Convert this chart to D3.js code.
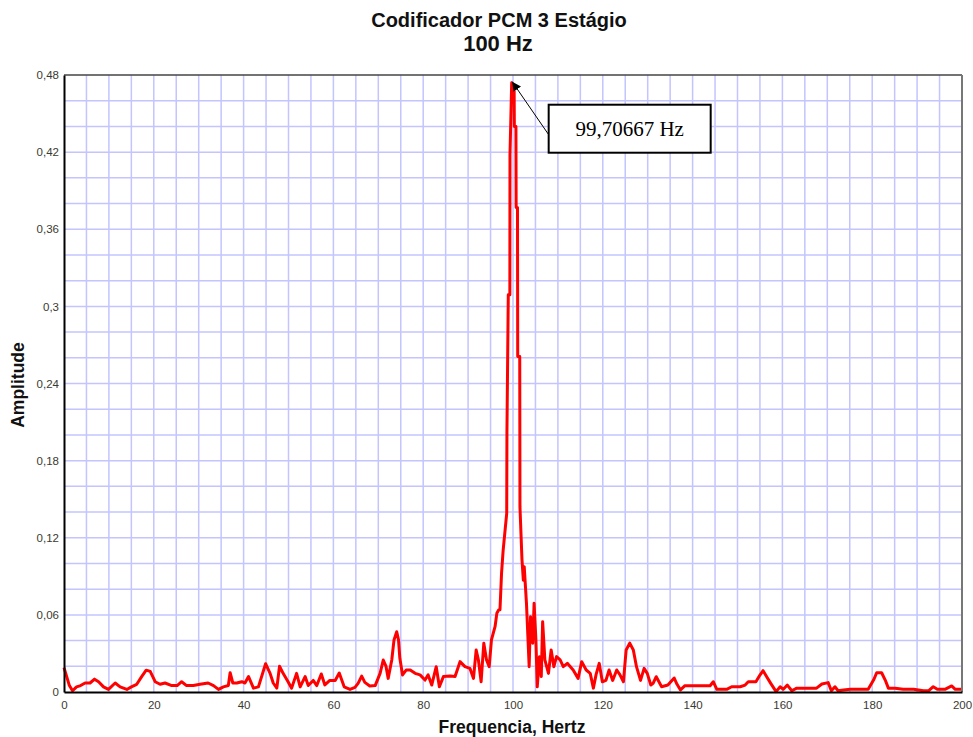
<!DOCTYPE html>
<html>
<head>
<meta charset="utf-8">
<script src="https://cdn.jsdelivr.net/npm/d3@7"></script>
<style>
  html, body { margin: 0; padding: 0; background: #ffffff; }
  svg { display: block; }
</style>
</head>
<body>
<svg id="chart" width="973" height="737"></svg>
<script>
// ---- data ----
const titleLines = ["Codificador PCM 3 Estágio", "100 Hz"];
const xAxisTitle = "Frequencia, Hertz";
const yAxisTitle = "Amplitude";
const xTickValues = [0, 20, 40, 60, 80, 100, 120, 140, 160, 180, 200];
const xTickLabels = ["0", "20", "40", "60", "80", "100", "120", "140", "160", "180", "200"];
const yTickValues = [0, 0.06, 0.12, 0.18, 0.24, 0.30, 0.36, 0.42, 0.48];
const yTickLabels = ["0", "0,06", "0,12", "0,18", "0,24", "0,3", "0,36", "0,42", "0,48"];
const peakFrequency = 99.70667;
const peakAmplitude = 0.474;
const peakLabel = "99,70667 Hz";

const frequency = [
  0, 0.6, 1.2, 1.9, 2.8, 3.7, 4.7, 5.8, 6.8, 7.7, 8.8, 9.9, 11.4, 12.5, 14.0, 15.0,
  16.2, 17.3, 18.3, 19.2, 20.3, 21.4, 22.5, 24.0, 25.2, 26.2, 27.3, 28.8, 30.3, 32.1,
  33.3, 34.4, 35.5, 36.6, 37.0, 37.6, 38.5, 39.6, 40.3, 41.1, 42.2, 43.3, 44.9, 45.9,
  46.6, 47.4, 48.0, 48.8, 49.9, 50.7, 51.8, 52.6, 53.7, 54.4, 55.5, 56.3, 57.3, 58.1,
  59.2, 60.4, 61.3, 62.4, 63.7, 64.8, 65.5, 66.3, 67.0, 68.1, 69.3, 70.4, 71.1, 71.7,
  72.2, 73.0, 73.5, 74.1, 74.5, 74.8, 75.4, 76.2, 77.1, 78.2, 79.3, 80.4, 81.1, 81.9,
  82.9, 83.6, 84.5, 86.0, 87.1, 88.2, 89.3, 90.4, 91.2, 91.8, 92.3, 92.9, 93.5, 94.1,
  94.7, 95.2, 96.0, 96.4, 96.8, 97.1, 97.45, 97.8, 98.2, 98.6, 98.65, 98.95, 99.3, 99.33,
  99.70667, 100.25, 100.3, 100.65, 100.7, 101.0, 101.05, 101.5, 101.55, 102.0, 102.3,
  102.5, 103.0, 103.6, 103.9, 104.4, 104.7,
  105.1, 105.4, 105.9, 106.3, 106.6, 107.1, 107.9, 108.5, 109.1, 109.7, 110.5, 111.2,
  112.1, 113.4, 114.5, 115.3, 116.3, 117.2, 117.9, 118.5, 119.2, 119.9, 120.7, 121.4,
  122.2, 123.1, 123.8, 124.6, 125.2, 126.0, 126.8, 127.5, 128.4, 129.2, 129.9, 130.7,
  131.2, 131.9, 133.1, 134.5, 135.9, 136.5, 137.3, 138.3, 140.2, 142.4, 143.9, 144.6,
  145.4, 147.6, 148.7, 150.6, 151.7, 152.4, 154.1, 155.0, 155.7, 156.5, 157.4, 158.6,
  159.5, 160.2, 161.1, 162.1, 163.2, 165.4, 167.6, 168.8, 170.2, 170.9, 171.7, 172.4,
  173.6, 175.1, 177.3, 179.1, 180.3, 181.0, 182.1, 182.9, 183.6, 185.1, 186.9, 189.2,
  191.4, 192.6, 193.6, 194.5, 196.2, 197.7, 198.5, 199.9
];
const amplitude = [
  0.019, 0.012, 0.005, 0.001, 0.004, 0.005, 0.007, 0.007, 0.010, 0.008, 0.004, 0.002, 0.007, 0.004, 0.002, 0.004,
  0.006, 0.012, 0.017, 0.016, 0.008, 0.006, 0.007, 0.005, 0.005, 0.008, 0.005, 0.005, 0.006, 0.007,
  0.005, 0.002, 0.004, 0.005, 0.015, 0.007, 0.007, 0.008, 0.007, 0.012, 0.003, 0.004, 0.022, 0.0145,
  0.007, 0.003, 0.020, 0.0145, 0.008, 0.003, 0.0145, 0.004, 0.012, 0.005, 0.009, 0.005, 0.014, 0.0055,
  0.009, 0.009, 0.0148, 0.004, 0.002, 0.0036, 0.0067, 0.0124, 0.0075, 0.0047, 0.005, 0.0145, 0.0249, 0.0202,
  0.0106, 0.0249, 0.0405, 0.0469, 0.0405, 0.0262, 0.0133, 0.0171, 0.0171, 0.0145, 0.0133, 0.0093, 0.0133, 0.0054,
  0.0197, 0.0041, 0.012, 0.0124, 0.012, 0.0236, 0.0197, 0.0184, 0.0106, 0.0327, 0.0249, 0.008, 0.038, 0.025,
  0.0197, 0.0405, 0.0508, 0.0612, 0.0638, 0.064, 0.0925, 0.110, 0.1245, 0.139, 0.2015, 0.309, 0.309, 0.418,
  0.474, 0.47, 0.44, 0.44, 0.377, 0.377, 0.261, 0.261, 0.144, 0.103, 0.087,
  0.0975, 0.069, 0.0197, 0.0586, 0.038, 0.069,
  0.0405, 0.004, 0.0275, 0.012, 0.0547, 0.025, 0.0145, 0.0327, 0.0197, 0.0275, 0.025, 0.0197,
  0.0223, 0.0171, 0.0106, 0.0236, 0.0171, 0.0145, 0.003, 0.0135, 0.0223, 0.008, 0.009, 0.0171,
  0.009, 0.0171, 0.0135, 0.008, 0.0327, 0.038, 0.0327, 0.0197, 0.009, 0.0184, 0.0145, 0.0054,
  0.0067, 0.0119, 0.0041, 0.0054, 0.0109, 0.0062, 0.0016, 0.0049, 0.0049, 0.0049, 0.0049, 0.008,
  0.0021, 0.0021, 0.0041, 0.0041, 0.0054, 0.008, 0.008, 0.0132, 0.0166, 0.0119, 0.0067, 0.0003,
  0.0041, 0.0021, 0.0054, 0.001, 0.003, 0.003, 0.003, 0.0062, 0.0073, 0.001, 0.0041, 0.001,
  0.0016, 0.0021, 0.0021, 0.0021, 0.0093, 0.015, 0.015, 0.0093, 0.003, 0.003, 0.0021, 0.0021,
  0.001, 0.001, 0.0041, 0.0021, 0.0021, 0.0047, 0.0021, 0.0021
];

// ---- layout ----
const svg = d3.select("#chart");
const plot = { left: 64, right: 962, top: 75, bottom: 692 };

const x = d3.scaleLinear().domain([0, 200]).range([plot.left, plot.right]);
const y = d3.scaleLinear().domain([0, 0.48]).range([plot.bottom, plot.top]);

svg.append("rect").attr("width", 973).attr("height", 737).attr("fill", "#ffffff");

// grid
const gridColor = "#c4c4ff";
const g = svg.append("g");
g.selectAll("line.vg").data(d3.range(5, 200, 5)).enter().append("line")
  .attr("x1", d => x(d)).attr("x2", d => x(d))
  .attr("y1", plot.top).attr("y2", plot.bottom)
  .attr("stroke", gridColor).attr("stroke-width", 1.5);
g.selectAll("line.hg").data(d3.range(1, 24).map(i => i * 0.02)).enter().append("line")
  .attr("y1", d => y(d)).attr("y2", d => y(d))
  .attr("x1", plot.left).attr("x2", plot.right)
  .attr("stroke", gridColor).attr("stroke-width", 1.5);

// series
const pts = frequency.map((f, i) => [f, amplitude[i]]);
svg.append("path")
  .datum(pts)
  .attr("fill", "none")
  .attr("stroke", "#ff0000")
  .attr("stroke-width", 3)
  .attr("stroke-linejoin", "round")
  .attr("d", d3.line().x(d => x(d[0])).y(d => y(d[1])));

// frame
svg.append("line").attr("x1", plot.left).attr("x2", plot.right).attr("y1", plot.top).attr("y2", plot.top)
  .attr("stroke", "#444").attr("stroke-width", 1.5);
svg.append("line").attr("x1", plot.right).attr("x2", plot.right).attr("y1", plot.top).attr("y2", plot.bottom)
  .attr("stroke", "#777").attr("stroke-width", 2);

// axes
const xAxis = d3.axisBottom(x).tickValues(xTickValues)
  .tickFormat((d, i) => xTickLabels[i]).tickSize(0).tickPadding(9);
const yAxis = d3.axisLeft(y).tickValues(yTickValues)
  .tickFormat((d, i) => yTickLabels[i]).tickSize(0).tickPadding(5);

const gx = svg.append("g").attr("transform", `translate(0,${plot.bottom})`).call(xAxis);
const gy = svg.append("g").attr("transform", `translate(${plot.left},0)`).call(yAxis);
[gx, gy].forEach(a => {
  a.select(".domain").attr("stroke", "#000").attr("stroke-width", 2);
  a.selectAll("text").attr("font-family", "Liberation Sans, Arial, sans-serif")
    .attr("font-size", 11.5).attr("fill", "#3a3a30");
});

// titles
svg.append("text").attr("x", 499).attr("y", 27).attr("text-anchor", "middle")
  .attr("font-family", "Liberation Sans, Arial, sans-serif").attr("font-weight", "bold")
  .attr("font-size", 20).attr("fill", "#111").text(titleLines[0]);
svg.append("text").attr("x", 498).attr("y", 51).attr("text-anchor", "middle")
  .attr("font-family", "Liberation Sans, Arial, sans-serif").attr("font-weight", "bold")
  .attr("font-size", 22).attr("fill", "#111").text(titleLines[1]);

svg.append("text").attr("x", 512).attr("y", 733).attr("text-anchor", "middle")
  .attr("font-family", "Liberation Sans, Arial, sans-serif").attr("font-weight", "bold")
  .attr("font-size", 17.5).attr("fill", "#111").text(xAxisTitle);
svg.append("text").attr("transform", "translate(24,385) rotate(-90)").attr("text-anchor", "middle")
  .attr("font-family", "Liberation Sans, Arial, sans-serif").attr("font-weight", "bold")
  .attr("font-size", 17.5).attr("fill", "#111").text(yAxisTitle);

// annotation
const px = x(peakFrequency), py = y(peakAmplitude);
const box = { x: px + 37, y: py + 22, w: 162, h: 48 };
svg.append("defs").append("marker")
  .attr("id", "arrow").attr("viewBox", "0 0 10 10").attr("refX", 10).attr("refY", 5)
  .attr("markerWidth", 9).attr("markerHeight", 9).attr("markerUnits", "userSpaceOnUse")
  .attr("orient", "auto")
  .append("path").attr("d", "M0,0 L10,5 L0,10 z").attr("fill", "#000");
svg.append("line")
  .attr("x1", box.x).attr("y1", box.y + 30)
  .attr("x2", px + 0.5).attr("y2", py - 1)
  .attr("stroke", "#000").attr("stroke-width", 1)
  .attr("marker-end", "url(#arrow)");
svg.append("rect").attr("x", box.x).attr("y", box.y).attr("width", box.w).attr("height", box.h)
  .attr("fill", "#fff").attr("stroke", "#000").attr("stroke-width", 2);
svg.append("text").attr("x", box.x + box.w / 2).attr("y", box.y + box.h / 2 + 7)
  .attr("text-anchor", "middle")
  .attr("font-family", "Liberation Serif, Times New Roman, serif")
  .attr("font-size", 21).attr("fill", "#000").text(peakLabel);
</script>
</body>
</html>
